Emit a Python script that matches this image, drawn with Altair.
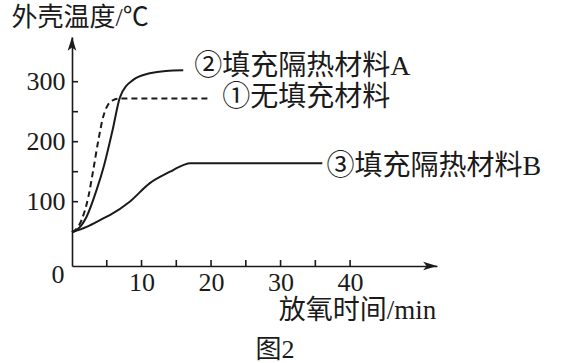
import altair as alt
import pandas as pd

FONT = "Liberation Serif, Noto Sans CJK SC"
INK = "#1a1a1a"

# Series 1: 无填充材料 (dashed)
t1 = [0, 1.4, 2.35, 3.06, 3.8, 4.5, 5.2, 5.85, 7, 20]
v1 = [49, 70, 108, 153, 203, 242, 262, 269, 272, 272]
# Series 2: 填充隔热材料A
t2 = [0, 0.7, 2.1, 3.55, 4.6, 5.85, 6.9, 8.8, 11.2, 13.5, 16]
v2 = [49, 53, 75, 120, 160, 220, 274, 303, 314, 318, 319]
# Series 3: 填充隔热材料B
t3 = [0, 2.1, 4.5, 5.5, 8.3, 11.2, 14.1, 16, 17, 36]
v3 = [49, 58, 72, 78, 100, 131, 150, 161, 164, 164]

labels = ["②填充隔热材料A", "①无填充材料", "③填充隔热材料B"]
label_t = [17.6, 21.6, 36.6]
label_v = [324, 273, 158]

x_tick_labels = [10, 20, 30, 40]
x_minor = [5, 10, 15, 20, 25, 30, 35, 40]
y_tick_labels = [100, 200, 300]
y_minor = [100, 150, 200, 250, 300]

X_MAX = 52.5
Y_MIN, Y_MAX = -7.2, 374.5
W, H = 365, 229

rows = []
for name, ts, vs in [("s1", t1, v1), ("s2", t2, v2), ("s3", t3, v3)]:
    for i, (t, v) in enumerate(zip(ts, vs)):
        rows.append({"series": name, "t": t, "v": v, "order": i})
df = pd.DataFrame(rows)

xscale = alt.Scale(domain=[0, X_MAX], nice=False, zero=False)
yscale = alt.Scale(domain=[Y_MIN, Y_MAX], nice=False, zero=False)

xaxis = alt.Axis(values=x_tick_labels, tickSize=0, grid=False, labelFont=FONT,
                 labelFontSize=26, labelColor=INK, labelPadding=3,
                 domainColor=INK, domainWidth=1.6, title="放氧时间/min",
                 titleFont=FONT, titleFontSize=27, titleFontWeight="normal",
                 titleColor=INK, titleX=285, titleY=44, titleAlign="center",
                 titleBaseline="middle")
yaxis = alt.Axis(values=y_tick_labels, tickSize=0, grid=False, labelFont=FONT,
                 labelFontSize=26, labelColor=INK, labelPadding=7,
                 domainColor=INK, domainWidth=1.6, title="外壳温度/℃",
                 titleFont=FONT, titleFontSize=26, titleFontWeight="normal",
                 titleColor=INK, titleAngle=0, titleX=-61, titleY=-20,
                 titleAlign="left", titleBaseline="middle")

base = alt.Chart(df)

solid = base.transform_filter(alt.datum.series != "s1").mark_line(
    color=INK, strokeWidth=2, interpolate="monotone").encode(
    x=alt.X("t:Q", scale=xscale, axis=xaxis),
    y=alt.Y("v:Q", scale=yscale, axis=yaxis),
    detail="series:N", order="order:Q")

dashed = base.transform_filter(alt.datum.series == "s1").mark_line(
    color=INK, strokeWidth=2, strokeDash=[6, 4], interpolate="monotone").encode(
    x=alt.X("t:Q", scale=xscale), y=alt.Y("v:Q", scale=yscale), order="order:Q")

lab_df = pd.DataFrame({"t": label_t, "v": label_v, "label": labels})
lab = alt.Chart(lab_df).mark_text(align="left", baseline="middle", font=FONT,
                                  fontSize=28, color=INK).encode(
    x=alt.X("t:Q", scale=xscale), y=alt.Y("v:Q", scale=yscale), text="label:N")

xt = alt.Chart(pd.DataFrame({"t": x_minor})).mark_rule(color=INK, strokeWidth=1.6).encode(
    x=alt.X("t:Q", scale=xscale), y=alt.value(H), y2=alt.value(H - 6))
yt = alt.Chart(pd.DataFrame({"v": y_minor})).mark_rule(color=INK, strokeWidth=1.6).encode(
    y=alt.Y("v:Q", scale=yscale), x=alt.value(0), x2=alt.value(6))

up = alt.Chart(pd.DataFrame({"t": [0], "v": [Y_MAX]})).mark_point(
    shape="M0,0L0.5,1.6L0,1.2L-0.5,1.6Z", filled=True, color=INK, size=300, opacity=1).encode(
    x=alt.X("t:Q", scale=xscale), y=alt.Y("v:Q", scale=yscale))
right = alt.Chart(pd.DataFrame({"t": [X_MAX], "v": [Y_MIN]})).mark_point(
    shape="M0,0L-1.6,-0.5L-1.2,0L-1.6,0.5Z", filled=True, color=INK, size=300, opacity=1).encode(
    x=alt.X("t:Q", scale=xscale), y=alt.Y("v:Q", scale=yscale))

zero = alt.Chart(pd.DataFrame({"t": [0], "v": [0], "s": ["0"]})).mark_text(
    font=FONT, fontSize=26, color=INK, dx=-14, dy=13).encode(
    x=alt.X("t:Q", scale=xscale), y=alt.Y("v:Q", scale=yscale), text="s:N")

fig = alt.Chart(pd.DataFrame({"s": ["图2"]})).mark_text(
    font=FONT, fontSize=26, color=INK).encode(
    x=alt.value(203), y=alt.value(313), text="s:N")

chart = alt.layer(solid, dashed, xt, yt, up, right, lab, zero, fig).properties(
    width=W, height=H,
    autosize=alt.AutoSizeParams(type="none"),
    padding={"left": 72, "top": 37, "right": 124, "bottom": 97},
    background="white",
).configure_view(stroke=None)

chart.save("out.html", embed_options={"renderer": "svg", "actions": False})
